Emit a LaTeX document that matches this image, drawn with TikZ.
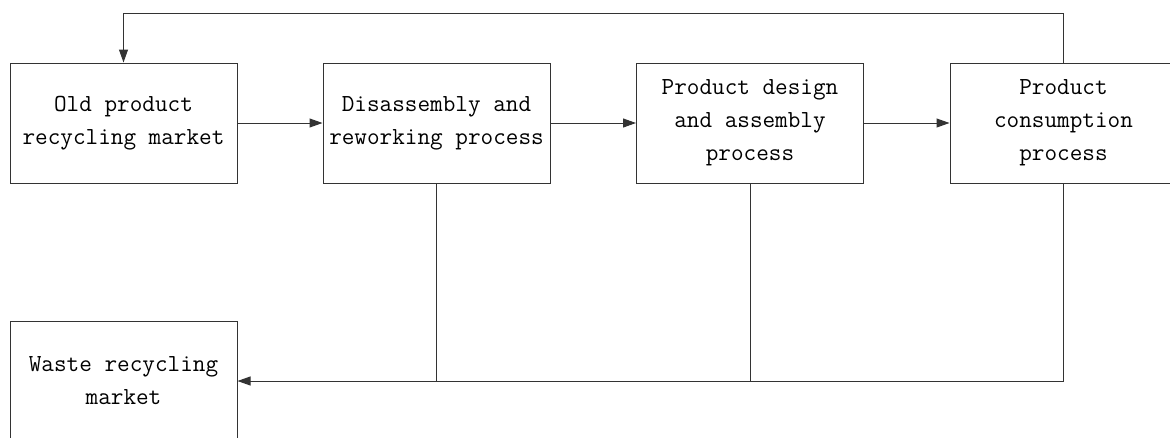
\documentclass[tikz,border=0pt]{standalone}
\usetikzlibrary{arrows.meta}

\begin{document}
\begin{tikzpicture}[
    x=1pt, y=-1pt,
    stage/.style={draw=black!80, line width=1pt, minimum width=227pt,
                  minimum height=120pt, align=center, inner sep=2pt,
                  font=\ttfamily\fontsize{24.5}{33}\selectfont},
    link/.style={black!80, line width=1pt},
    flow/.style={link, -{Triangle[length=13pt,width=9pt]}}
]
\useasboundingbox (0,0) rectangle (1170,437);

% =========================================================
% MAIN CHAIN
% =========================================================
\node[stage] (oldmkt)  at (123.5,123) {Old product\\recycling market};
\node[stage] (rework)  at (436.5,123) {Disassembly and\\reworking process};
\node[stage] (design)  at (750,123)   {Product design\\and assembly\\process};
\node[stage] (consume) at (1063.5,123) {Product\\consumption\\process};

% waste market below
\node[stage] (waste) at (123.5,381) {Waste recycling\\market};

% forward arrows
\draw[flow] (oldmkt.east) -- (rework.west);
\draw[flow] (rework.east) -- (design.west);
\draw[flow] (design.east) -- (consume.west);

% =========================================================
% FEEDBACK AND WASTE LINES
% =========================================================
\coordinate (fb) at (1063.5,13);
\draw[flow] (consume.north) -- (fb) -| (oldmkt.north);

\draw[flow] (consume.south) |- (waste.east);
\draw[link] (rework.south) -- (rework.south |- waste.east);
\draw[link] (design.south) -- (design.south |- waste.east);

\end{tikzpicture}
\end{document}
